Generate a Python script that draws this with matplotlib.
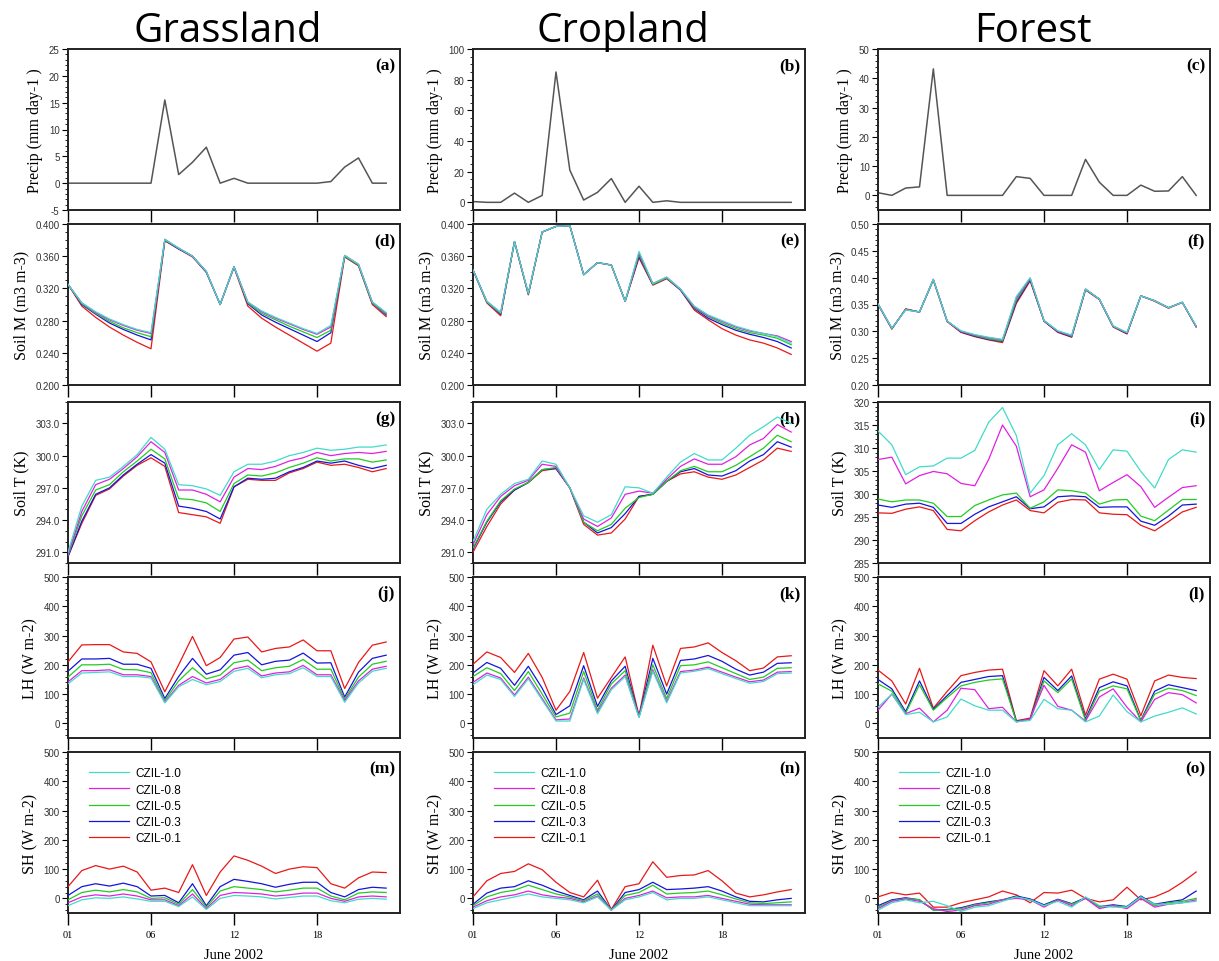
import matplotlib
matplotlib.use("Agg")
import matplotlib.pyplot as plt
from matplotlib.ticker import MultipleLocator, FixedLocator, FormatStrFormatter

# ---- data (daily, June 2002, 24 days) ----
days = list(range(24))
xtick_pos = [0, 6, 12, 18]
xtick_labels = ["01", "06", "12", "18"]

runs = ["CZIL-1.0", "CZIL-0.8", "CZIL-0.5", "CZIL-0.3", "CZIL-0.1"]
run_colors = ["#40DCC8", "#E020E0", "#22CC22", "#1414DC", "#E81818"]

columns = ["Grassland", "Cropland", "Forest"]

grass_precip = [0, 0, 0, 0, 0, 0, 0, 15.5, 1.6, 3.9, 6.7, 0, 0.9, 0, 0, 0, 0, 0, 0, 0.3, 3.0, 4.7, 0, 0]
crop_precip = [0.5, 0, 0, 6, 0, 4.5, 85, 21, 1.5, 6.5, 15.5, 0, 10.5, 0, 1, 0, 0, 0, 0, 0, 0, 0, 0, 0]
forest_precip = [0.9, 0, 2.5, 2.9, 43.2, 0, 0, 0, 0, 0, 6.4, 5.8, 0, 0, 0, 12.3, 4.5, 0, 0, 3.5, 1.4, 1.5, 6.4, 0]

grass_soilm = {
    "CZIL-1.0": [0.325, 0.302, 0.291, 0.282, 0.275, 0.269, 0.265, 0.381, 0.370, 0.360, 0.341, 0.300, 0.347, 0.303, 0.292, 0.284, 0.277, 0.270, 0.264, 0.274, 0.361, 0.350, 0.303, 0.290],
    "CZIL-0.8": [0.325, 0.302, 0.290, 0.281, 0.274, 0.268, 0.264, 0.381, 0.370, 0.360, 0.341, 0.300, 0.347, 0.303, 0.291, 0.283, 0.276, 0.269, 0.263, 0.272, 0.361, 0.350, 0.303, 0.289],
    "CZIL-0.5": [0.325, 0.301, 0.289, 0.279, 0.271, 0.265, 0.260, 0.380, 0.370, 0.360, 0.341, 0.300, 0.347, 0.302, 0.289, 0.281, 0.273, 0.266, 0.259, 0.268, 0.360, 0.349, 0.302, 0.288],
    "CZIL-0.3": [0.325, 0.300, 0.288, 0.277, 0.269, 0.262, 0.256, 0.380, 0.369, 0.360, 0.340, 0.300, 0.347, 0.301, 0.287, 0.278, 0.270, 0.262, 0.254, 0.265, 0.360, 0.349, 0.302, 0.287],
    "CZIL-0.1": [0.325, 0.298, 0.284, 0.272, 0.262, 0.253, 0.245, 0.379, 0.369, 0.359, 0.340, 0.300, 0.346, 0.298, 0.283, 0.272, 0.262, 0.252, 0.242, 0.252, 0.359, 0.348, 0.300, 0.285],
}
crop_soilm = {
    "CZIL-1.0": [0.343, 0.304, 0.290, 0.378, 0.314, 0.390, 0.397, 0.398, 0.337, 0.352, 0.349, 0.304, 0.366, 0.326, 0.334, 0.319, 0.298, 0.287, 0.280, 0.273, 0.268, 0.264, 0.260, 0.252],
    "CZIL-0.8": [0.343, 0.304, 0.290, 0.378, 0.314, 0.390, 0.397, 0.398, 0.337, 0.352, 0.349, 0.304, 0.364, 0.326, 0.334, 0.319, 0.297, 0.286, 0.279, 0.272, 0.267, 0.264, 0.261, 0.254],
    "CZIL-0.5": [0.343, 0.303, 0.289, 0.378, 0.313, 0.390, 0.397, 0.398, 0.337, 0.352, 0.349, 0.304, 0.362, 0.325, 0.333, 0.319, 0.296, 0.285, 0.277, 0.270, 0.265, 0.262, 0.258, 0.250],
    "CZIL-0.3": [0.343, 0.303, 0.288, 0.378, 0.313, 0.390, 0.397, 0.398, 0.337, 0.352, 0.349, 0.304, 0.360, 0.325, 0.333, 0.318, 0.295, 0.283, 0.275, 0.268, 0.263, 0.259, 0.254, 0.246],
    "CZIL-0.1": [0.343, 0.302, 0.286, 0.378, 0.312, 0.390, 0.397, 0.398, 0.337, 0.352, 0.349, 0.304, 0.358, 0.324, 0.332, 0.318, 0.293, 0.281, 0.270, 0.262, 0.256, 0.252, 0.246, 0.238],
}
forest_soilm = {
    "CZIL-1.0": [0.351, 0.306, 0.340, 0.336, 0.397, 0.319, 0.301, 0.294, 0.289, 0.285, 0.365, 0.400, 0.320, 0.301, 0.293, 0.379, 0.360, 0.310, 0.298, 0.366, 0.357, 0.344, 0.354, 0.310],
    "CZIL-0.8": [0.351, 0.306, 0.340, 0.336, 0.397, 0.319, 0.300, 0.293, 0.288, 0.284, 0.362, 0.399, 0.320, 0.300, 0.292, 0.379, 0.360, 0.310, 0.297, 0.366, 0.357, 0.344, 0.354, 0.309],
    "CZIL-0.5": [0.351, 0.305, 0.341, 0.336, 0.396, 0.319, 0.300, 0.292, 0.286, 0.282, 0.358, 0.398, 0.320, 0.300, 0.291, 0.378, 0.360, 0.309, 0.297, 0.366, 0.357, 0.344, 0.354, 0.309],
    "CZIL-0.3": [0.351, 0.305, 0.341, 0.336, 0.396, 0.319, 0.299, 0.291, 0.285, 0.281, 0.355, 0.396, 0.319, 0.299, 0.290, 0.378, 0.360, 0.309, 0.296, 0.366, 0.357, 0.344, 0.354, 0.309],
    "CZIL-0.1": [0.350, 0.304, 0.342, 0.336, 0.396, 0.318, 0.298, 0.290, 0.284, 0.279, 0.352, 0.394, 0.319, 0.298, 0.289, 0.377, 0.359, 0.308, 0.295, 0.366, 0.356, 0.343, 0.354, 0.308],
}

grass_soilt = {
    "CZIL-1.0": [291.0, 295.3, 297.7, 298.0, 299.0, 300.1, 301.7, 300.6, 297.3, 297.2, 296.9, 296.3, 298.5, 299.2, 299.2, 299.5, 300.0, 300.3, 300.7, 300.5, 300.6, 300.8, 300.8, 301.0],
    "CZIL-0.8": [290.8, 294.8, 297.3, 297.8, 298.8, 299.9, 301.3, 300.3, 296.8, 296.8, 296.4, 295.7, 298.0, 298.8, 298.7, 299.0, 299.5, 299.8, 300.3, 300.0, 300.2, 300.3, 300.2, 300.4],
    "CZIL-0.5": [290.7, 294.4, 296.8, 297.3, 298.5, 299.5, 300.6, 299.7, 296.0, 295.9, 295.6, 294.8, 297.4, 298.2, 298.1, 298.4, 298.9, 299.3, 299.8, 299.5, 299.7, 299.7, 299.4, 299.6],
    "CZIL-0.3": [290.6, 293.9, 296.4, 297.0, 298.2, 299.2, 300.1, 299.3, 295.3, 295.1, 294.8, 294.1, 297.1, 297.9, 297.8, 297.9, 298.5, 298.9, 299.5, 299.3, 299.5, 299.1, 298.8, 299.1],
    "CZIL-0.1": [290.6, 293.7, 296.3, 296.9, 298.1, 299.1, 299.8, 299.0, 294.7, 294.5, 294.3, 293.7, 297.1, 297.8, 297.7, 297.7, 298.4, 298.8, 299.4, 299.1, 299.2, 298.9, 298.5, 298.8],
}
crop_soilt = {
    "CZIL-1.0": [292.0, 295.0, 296.4, 297.4, 297.8, 299.5, 299.2, 297.0, 294.4, 293.8, 294.5, 297.1, 297.0, 296.5, 298.0, 299.4, 300.2, 299.6, 299.6, 300.7, 301.9, 302.7, 303.6, 303.0],
    "CZIL-0.8": [291.7, 294.5, 296.2, 297.2, 297.7, 299.2, 299.0, 297.0, 294.1, 293.4, 294.2, 296.4, 296.7, 296.5, 297.8, 299.0, 299.7, 299.2, 299.2, 299.9, 301.0, 301.6, 302.9, 302.2],
    "CZIL-0.5": [291.4, 293.9, 295.8, 296.9, 297.5, 298.7, 298.9, 297.0, 293.8, 293.0, 293.6, 295.1, 296.1, 296.4, 297.6, 298.6, 299.0, 298.5, 298.5, 299.1, 299.9, 300.7, 301.9, 301.3],
    "CZIL-0.3": [291.3, 293.8, 295.7, 296.8, 297.5, 298.7, 298.8, 297.0, 293.8, 292.8, 293.3, 294.6, 296.2, 296.4, 297.6, 298.5, 298.8, 298.2, 298.1, 298.6, 299.5, 300.1, 301.3, 300.8],
    "CZIL-0.1": [291.0, 293.4, 295.5, 296.8, 297.5, 298.6, 298.8, 297.0, 293.6, 292.6, 292.8, 294.1, 296.2, 296.4, 297.6, 298.3, 298.5, 298.0, 297.8, 298.2, 298.9, 299.6, 300.7, 300.4],
}
forest_soilt = {
    "CZIL-1.0": [313.7, 310.7, 304.2, 305.9, 306.1, 307.8, 307.8, 309.5, 315.6, 318.8, 312.7, 300.2, 304.0, 310.7, 313.1, 310.7, 305.3, 309.6, 309.3, 304.9, 301.3, 307.5, 309.6, 309.1],
    "CZIL-0.8": [307.5, 308.0, 302.2, 304.0, 304.9, 304.4, 302.3, 301.8, 307.5, 315.0, 310.4, 299.4, 300.9, 305.6, 310.7, 309.1, 300.7, 302.5, 304.2, 301.6, 297.1, 299.3, 301.4, 301.8],
    "CZIL-0.5": [298.9, 298.3, 298.7, 298.7, 298.0, 295.1, 295.1, 297.5, 298.7, 299.8, 300.2, 296.9, 298.3, 300.9, 300.7, 300.2, 297.8, 298.7, 298.8, 295.2, 294.2, 296.5, 298.8, 298.8],
    "CZIL-0.3": [297.6, 297.1, 297.8, 298.0, 297.1, 293.6, 293.6, 295.6, 297.2, 298.3, 299.4, 296.8, 297.2, 299.4, 299.6, 299.4, 297.1, 297.2, 297.2, 294.1, 293.2, 295.2, 297.6, 297.8],
    "CZIL-0.1": [295.9, 295.8, 296.7, 297.2, 296.4, 292.3, 292.0, 294.2, 296.1, 297.6, 298.7, 296.4, 295.9, 298.2, 298.8, 298.7, 295.9, 295.6, 295.5, 293.2, 292.0, 294.0, 296.1, 297.1],
}

grass_lh = {
    "CZIL-1.0": [135, 172, 174, 176, 160, 160, 155, 70, 125, 150, 132, 143, 178, 188, 156, 166, 170, 190, 160, 160, 72, 138, 178, 188],
    "CZIL-0.8": [142, 180, 180, 183, 166, 166, 160, 73, 130, 160, 138, 150, 186, 196, 162, 172, 176, 198, 166, 166, 78, 145, 185, 195],
    "CZIL-0.5": [158, 200, 200, 202, 184, 183, 173, 78, 145, 190, 152, 165, 207, 216, 180, 190, 195, 218, 185, 185, 83, 158, 202, 212],
    "CZIL-0.3": [178, 220, 220, 222, 202, 202, 188, 85, 160, 222, 168, 183, 233, 242, 200, 212, 216, 240, 206, 207, 90, 175, 222, 233],
    "CZIL-0.1": [210, 268, 269, 269, 244, 239, 210, 108, 200, 297, 197, 225, 288, 295, 244, 256, 261, 285, 248, 248, 119, 208, 267, 278],
}
crop_lh = {
    "CZIL-1.0": [132, 165, 150, 92, 152, 80, 8, 8, 150, 33, 115, 160, 20, 178, 70, 172, 178, 187, 170, 153, 137, 143, 170, 172],
    "CZIL-0.8": [140, 172, 155, 97, 158, 85, 12, 15, 155, 38, 120, 165, 22, 183, 75, 177, 182, 192, 175, 158, 142, 148, 175, 177],
    "CZIL-0.5": [160, 190, 170, 112, 177, 100, 22, 35, 177, 45, 135, 180, 22, 200, 85, 197, 200, 210, 190, 170, 150, 158, 188, 190],
    "CZIL-0.3": [172, 208, 188, 130, 195, 120, 30, 60, 197, 58, 145, 195, 24, 222, 100, 215, 220, 232, 212, 185, 165, 175, 205, 207],
    "CZIL-0.1": [202, 244, 225, 174, 239, 157, 45, 109, 242, 86, 157, 227, 26, 267, 128, 256, 261, 275, 242, 214, 180, 189, 227, 231],
}
forest_lh = {
    "CZIL-1.0": [55, 100, 30, 38, 5, 22, 83, 60, 45, 45, 5, 10, 82, 50, 45, 5, 25, 97, 40, 5, 25, 38, 53, 32],
    "CZIL-0.8": [45, 100, 33, 52, 5, 45, 120, 115, 50, 55, 5, 15, 130, 58, 45, 8, 90, 118, 55, 5, 82, 105, 98, 70],
    "CZIL-0.5": [135, 110, 35, 132, 45, 88, 128, 140, 148, 152, 6, 14, 145, 105, 152, 10, 110, 128, 118, 8, 100, 120, 112, 95],
    "CZIL-0.3": [150, 118, 40, 145, 48, 95, 140, 150, 160, 163, 7, 15, 157, 112, 162, 15, 122, 142, 128, 10, 110, 132, 122, 112],
    "CZIL-0.1": [182, 145, 66, 188, 52, 109, 163, 174, 182, 185, 9, 18, 180, 128, 185, 28, 151, 168, 151, 26, 145, 165, 157, 153],
}

grass_sh = {
    "CZIL-1.0": [-25, -5, 2, 0, 5, -2, -10, -10, -28, 5, -38, 0, 10, 8, 5, -2, 3, 8, 8, -8, -15, -3, 0, -3],
    "CZIL-0.8": [-15, 5, 12, 8, 15, 8, -5, -5, -25, 15, -35, 10, 20, 18, 15, 8, 12, 18, 18, 0, -10, 5, 8, 5],
    "CZIL-0.5": [-5, 20, 28, 22, 30, 22, 0, 2, -20, 30, -30, 25, 40, 35, 30, 22, 28, 35, 35, 8, -5, 18, 22, 20],
    "CZIL-0.3": [10, 40, 50, 42, 52, 40, 8, 10, -15, 50, -25, 40, 65, 58, 50, 38, 48, 55, 55, 20, 5, 30, 38, 35],
    "CZIL-0.1": [40, 95, 112, 100, 110, 90, 28, 35, 20, 115, 10, 90, 145, 130, 110, 85, 100, 108, 105, 50, 35, 70, 90, 88],
}
crop_sh = {
    "CZIL-1.0": [-35, -15, -5, 5, 15, 5, 0, -5, -15, 5, -40, -5, 5, 20, -5, 0, 0, 5, -5, -15, -25, -25, -25, -25],
    "CZIL-0.8": [-30, -8, 5, 12, 25, 12, 5, 0, -12, 8, -40, 0, 10, 25, 2, 5, 5, 10, 0, -10, -20, -22, -22, -22],
    "CZIL-0.5": [-25, 5, 20, 28, 45, 30, 15, 5, -8, 15, -40, 10, 20, 45, 15, 18, 20, 25, 12, -2, -15, -18, -15, -12],
    "CZIL-0.3": [-20, 18, 35, 40, 60, 45, 25, 10, -5, 25, -40, 20, 30, 55, 30, 32, 35, 40, 25, 5, -10, -12, -5, 0],
    "CZIL-0.1": [5, 60, 85, 92, 118, 98, 55, 20, 5, 62, -38, 40, 50, 125, 72, 78, 80, 95, 60, 18, 5, 12, 22, 30],
}
forest_sh = {
    "CZIL-1.0": [-40, -15, -5, -15, -10, -25, -45, -30, -25, -10, 5, -5, -25, -10, -30, 5, -25, -30, -30, 5, -20, -20, -15, -10],
    "CZIL-0.8": [-35, -10, -2, -10, -35, -45, -40, -25, -20, -5, 0, -5, -30, -5, -25, 0, -35, -25, -35, 0, -30, -20, -15, -5],
    "CZIL-0.5": [-30, -8, 0, -5, -40, -40, -35, -22, -15, -5, 5, -5, -25, -5, -20, 0, -30, -25, -30, 5, -25, -15, -10, 0],
    "CZIL-0.3": [-25, -5, 2, -5, -40, -38, -32, -20, -12, -5, 8, -2, -22, -3, -18, 2, -28, -22, -28, 8, -20, -12, -5, 25],
    "CZIL-0.1": [5, 20, 12, 18, -30, -30, -15, -5, 5, 25, 12, -15, 20, 18, 28, 0, -12, -5, 38, -5, 5, 25, 55, 90],
}

# ---- layout (pixels of the 1219x962 picture) ----
W, H = 1219, 962
col_left = [68, 473, 878]
row_top = [50, 225, 403, 578, 753]
pw, ph = 332, 161

fig = plt.figure(figsize=(W / 100, H / 100), dpi=100)

ylabels = ["Precip (mm day-1 )", "Soil M (m3 m-3)", "Soil T (K)", "LH (W m-2)", "SH (W m-2)"]
letters = "abcdefghijklmno"

# y axis setup per (row, col): (ymin, ymax, major, minor, fmt)
yaxes = {
    (0, 0): (-5, 25, 5, 1, "%d"),
    (0, 1): (-5, 100, 20, 5, "%d"),
    (0, 2): (-5, 50, 10, 2, "%d"),
    (1, 0): (0.2, 0.4, 0.04, 0.01, "%.3f"),
    (1, 1): (0.2, 0.4, 0.04, 0.01, "%.3f"),
    (1, 2): (0.2, 0.5, 0.05, 0.01, "%.2f"),
    (2, 0): (290, 305, 3, 1, "%.1f"),
    (2, 1): (290, 305, 3, 1, "%.1f"),
    (2, 2): (285, 320, 5, 1, "%d"),
}

precips = [grass_precip, crop_precip, forest_precip]
table = [
    [grass_soilm, crop_soilm, forest_soilm],
    [grass_soilt, crop_soilt, forest_soilt],
    [grass_lh, crop_lh, forest_lh],
    [grass_sh, crop_sh, forest_sh],
]

serif = ["Liberation Serif", "DejaVu Serif"]
sans = ["Liberation Sans", "DejaVu Sans"]

for c in range(3):
    for r in range(5):
        left = col_left[c] / W
        bottom = 1 - (row_top[r] + ph) / H
        ax = fig.add_axes([left, bottom, pw / W, ph / H])

        if r == 0:
            ax.plot(days, precips[c], color="#555555", lw=1.1)
        else:
            data = table[r - 1][c]
            # CZIL-1.0 ends up on top, as in the original
            for i, run in enumerate(runs):
                ax.plot(days, data[run], color=run_colors[i], lw=0.9,
                        label=run, zorder=10 - i)

        ax.set_xlim(0, 24)
        if (r, c) in yaxes:
            y0, y1, maj, mnr, fmt = yaxes[(r, c)]
        else:
            y0, y1, maj, mnr, fmt = (-50, 500, 100, 20, "%d")
        ax.set_ylim(y0, y1)
        off = 291 % maj if (r == 2 and c < 2) else 0
        ax.yaxis.set_major_locator(MultipleLocator(maj, offset=off))
        ax.yaxis.set_minor_locator(MultipleLocator(mnr))
        ax.yaxis.set_major_formatter(FormatStrFormatter(fmt))

        ax.xaxis.set_major_locator(FixedLocator(xtick_pos))
        ax.set_xticklabels(xtick_labels if r == 4 else [""] * 4)
        ax.tick_params(axis="x", direction="out", length=8.5, width=1.0,
                       labelsize=7.5, pad=4)
        ax.tick_params(axis="y", which="major", direction="out", length=4,
                       width=0.8, labelsize=7, labelcolor="#333333", pad=2)
        ax.tick_params(axis="y", which="minor", direction="out", length=2.2,
                       width=0.6)
        for lab in ax.get_yticklabels():
            lab.set_family(sans)
        for lab in ax.get_xticklabels():
            lab.set_family(serif)

        for sp in ax.spines.values():
            sp.set_linewidth(1.4)
            sp.set_color("#222222")

        ax.set_ylabel(ylabels[r], family=serif, fontsize=11.5, labelpad=4)
        ax.text(0.985, 0.95, "(" + letters[r * 3 + c] + ")", transform=ax.transAxes,
                ha="right", va="top", fontsize=12.5, fontweight="bold", family=serif)

        if r == 4:
            ax.legend(loc="upper left", frameon=False,
                      prop={"family": sans, "size": 8.5}, handlelength=3.4,
                      handletextpad=0.6, labelspacing=0.35,
                      bbox_to_anchor=(0.03, 0.97))
            ax.set_xlabel("June 2002", family=serif, fontsize=10.5, labelpad=6)

title_x = [228, 623, 1033]
for c in range(3):
    fig.text(title_x[c] / W, 1 - 42 / H, columns[c], ha="center", va="baseline",
             fontsize=29, family=["Open Sans", "DejaVu Sans"])

fig.savefig("out.png", dpi=100)
